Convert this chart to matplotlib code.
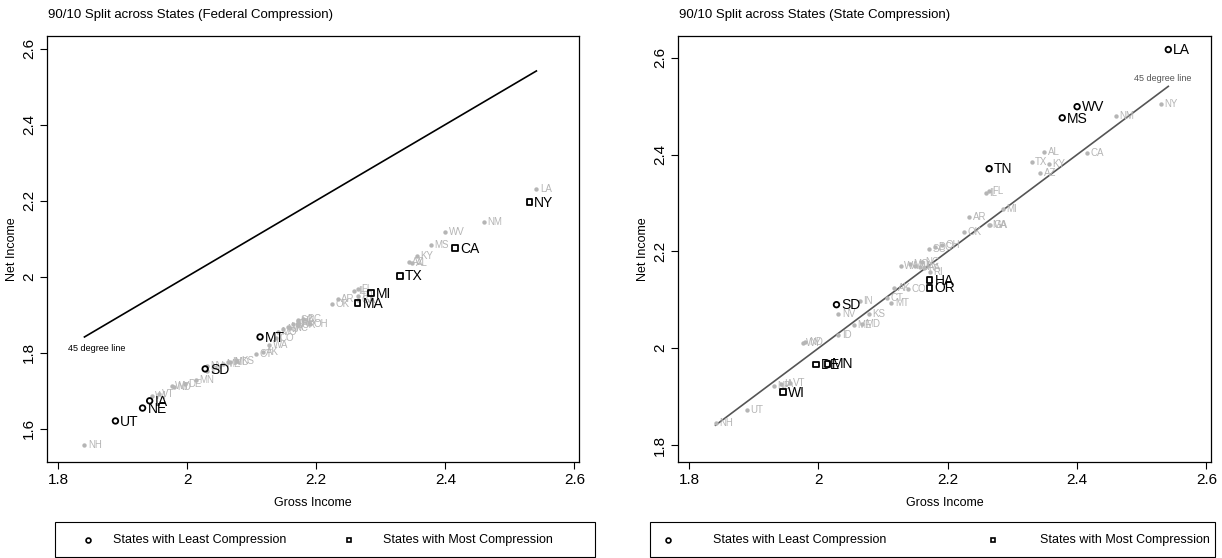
import matplotlib
matplotlib.use("Agg")
import matplotlib.pyplot as plt
from matplotlib.lines import Line2D
from matplotlib.patches import Rectangle

plt.rcParams['font.family'] = ['Liberation Sans Narrow', 'Liberation Sans', 'DejaVu Sans']

# 90/10 ratios by state (log points)
STATES = ["AL", "AK", "AZ", "AR", "CA", "CO", "CT", "DE", "DC", "FL", "GA", "HA", "ID",
          "IL", "IN", "IA", "KS", "KY", "LA", "ME", "MD", "MA", "MI", "MN", "MS", "MO",
          "MT", "NE", "NV", "NH", "NJ", "NM", "NY", "NC", "ND", "OH", "OK", "OR", "PA",
          "RI", "SC", "SD", "TN", "TX", "UT", "VT", "VA", "WA", "WV", "WI", "WY"]
GROSS = [2.349, 2.117, 2.343, 2.233, 2.415, 2.138, 2.106, 1.996, 2.180, 2.264, 2.265, 2.172, 2.031,
         2.259, 2.064, 1.942, 2.078, 2.356, 2.541, 2.055, 2.067, 2.264, 2.285, 2.014, 2.377, 2.141,
         2.113, 1.931, 2.031, 1.841, 2.149, 2.460, 2.530, 2.160, 1.980, 2.191, 2.225, 2.172, 2.164,
         2.172, 2.171, 2.028, 2.264, 2.330, 1.889, 1.956, 2.157, 2.127, 2.400, 1.945, 1.976]
NET_FED = [2.036, 1.802, 2.038, 1.941, 2.075, 1.839, 1.795, 1.718, 1.888, 1.967, 1.938, 1.883, 1.752,
           1.962, 1.774, 1.673, 1.778, 2.054, 2.230, 1.771, 1.776, 1.930, 1.957, 1.728, 2.083, 1.854,
           1.841, 1.654, 1.764, 1.557, 1.861, 2.144, 2.196, 1.864, 1.709, 1.874, 1.928, 1.872, 1.874,
           1.878, 1.885, 1.757, 1.949, 2.002, 1.620, 1.690, 1.866, 1.820, 2.117, 1.685, 1.711]
NET_STATE = [2.406, 2.125, 2.362, 2.271, 2.404, 2.123, 2.104, 1.966, 2.209, 2.325, 2.255, 2.141, 2.028,
             2.321, 2.098, 1.926, 2.071, 2.381, 2.617, 2.048, 2.050, 2.255, 2.288, 1.968, 2.476, 2.175,
             2.094, 1.921, 2.071, 1.846, 2.170, 2.480, 2.505, 2.178, 2.013, 2.214, 2.240, 2.125, 2.166,
             2.158, 2.205, 2.090, 2.371, 2.385, 1.873, 1.929, 2.168, 2.170, 2.499, 1.910, 2.011]

FED_LEAST = ["MT", "SD", "IA", "NE", "UT"]
FED_MOST = ["NY", "CA", "TX", "MI", "MA"]
STATE_LEAST = ["LA", "WV", "MS", "TN", "SD"]
STATE_MOST = ["HA", "OR", "DE", "MN", "WI"]

XTICKS = [1.8, 2.0, 2.2, 2.4, 2.6]
XTICKLABELS = ["1.8", "2", "2.2", "2.4", "2.6"]
FED_YTICKS = [1.6, 1.8, 2.0, 2.2, 2.4, 2.6]
FED_YTICKLABELS = ["1.6", "1.8", "2", "2.2", "2.4", "2.6"]
STATE_YTICKS = [1.8, 2.0, 2.2, 2.4, 2.6]
STATE_YTICKLABELS = ["1.8", "2", "2.2", "2.4", "2.6"]
LEGEND_LABELS = ["States with Least Compression", "States with Most Compression"]

GREY = "#b5b5b5"
W, H = 1222, 558
fig = plt.figure(figsize=(W / 100, H / 100), dpi=100)


def px_axes(x0, y0, x1, y1):
    return fig.add_axes([x0 / W, 1 - y1 / H, (x1 - x0) / W, (y1 - y0) / H])


def panel(ax, net, least, most, title, ylim, yticks, yticklabels, line_color, line_label, title_x):
    grey = [i for i, s in enumerate(STATES) if s not in least and s not in most]
    ax.scatter([GROSS[i] for i in grey], [net[i] for i in grey], s=10, color=GREY, lw=0, zorder=2)
    for i in grey:
        ax.annotate(STATES[i], (GROSS[i], net[i]), xytext=(2.5, 0), textcoords="offset points",
                    va="center", ha="left", fontsize=7, color=GREY, zorder=2)
    for group, mk in ((least, "o"), (most, "s")):
        idx = [STATES.index(s) for s in group]
        ax.scatter([GROSS[i] for i in idx], [net[i] for i in idx], s=16, marker=mk,
                   facecolor="none", edgecolor="black", lw=1.3, zorder=3)
        for i in idx:
            ax.annotate(STATES[i], (GROSS[i], net[i]), xytext=(3.5, -0.5), textcoords="offset points",
                        va="center", ha="left", fontsize=10, color="black", zorder=3)
    lo, hi = min(GROSS), max(GROSS)
    ax.plot([lo, hi], [lo, hi], color=line_color, lw=1.2, zorder=1)
    if line_label == "start":
        ax.annotate("45 degree line", (lo, lo), xytext=(9, -8), textcoords="offset points",
                    ha="center", va="center", fontsize=6.5, color="black")
    else:
        ax.annotate("45 degree line", (hi, hi), xytext=(-4, 6), textcoords="offset points",
                    ha="center", va="center", fontsize=6.5, color=line_color)

    ax.set_xlim(1.783, 2.607)
    ax.set_ylim(*ylim)
    ax.set_xticks(XTICKS)
    ax.set_xticklabels(XTICKLABELS, fontsize=11)
    ax.set_yticks(yticks)
    ax.set_yticklabels(yticklabels, fontsize=11, rotation=90, va="center")
    ax.tick_params(length=5, width=0.8, pad=3)
    for sp in ax.spines.values():
        sp.set_linewidth(0.9)
    ax.set_xlabel("Gross Income", fontsize=9, labelpad=7)
    ax.set_ylabel("Net Income", fontsize=9, labelpad=3)
    fig.text(title_x / W, 1 - 15 / H, title, fontsize=9.5, ha="left", va="center")


def legend_box(x0, x1, circle_x, circle_tx, square_x, square_tx):
    fig.add_artist(Rectangle((x0 / W, 1 - 557 / H), (x1 - x0) / W, 35 / H, transform=fig.transFigure,
                             fill=False, ec="black", lw=0.8))
    yc = 1 - 540 / H
    for mx, tx, mk, lab in ((circle_x, circle_tx, "o", LEGEND_LABELS[0]),
                            (square_x, square_tx, "s", LEGEND_LABELS[1])):
        fig.add_artist(Line2D([mx / W], [yc], transform=fig.transFigure, ls="none", marker=mk,
                              mfc="none", mec="black", ms=3.5, mew=1.2))
        fig.text(tx / W, yc, lab, ha="left", va="center", fontsize=9)


ax1 = px_axes(47, 36, 579, 462)
panel(ax1, NET_FED, FED_LEAST, FED_MOST, "90/10 Split across States (Federal Compression)",
      (1.512, 2.633), FED_YTICKS, FED_YTICKLABELS, "black", "start", 48)

ax2 = px_axes(678, 36, 1211, 462)
panel(ax2, NET_STATE, STATE_LEAST, STATE_MOST, "90/10 Split across States (State Compression)",
      (1.765, 2.645), STATE_YTICKS, STATE_YTICKLABELS, "#555555", "end", 679)

legend_box(55, 595, 88, 113, 349, 383)
legend_box(650, 1215, 668, 713, 993, 1040)

fig.savefig("out.png", dpi=100)
